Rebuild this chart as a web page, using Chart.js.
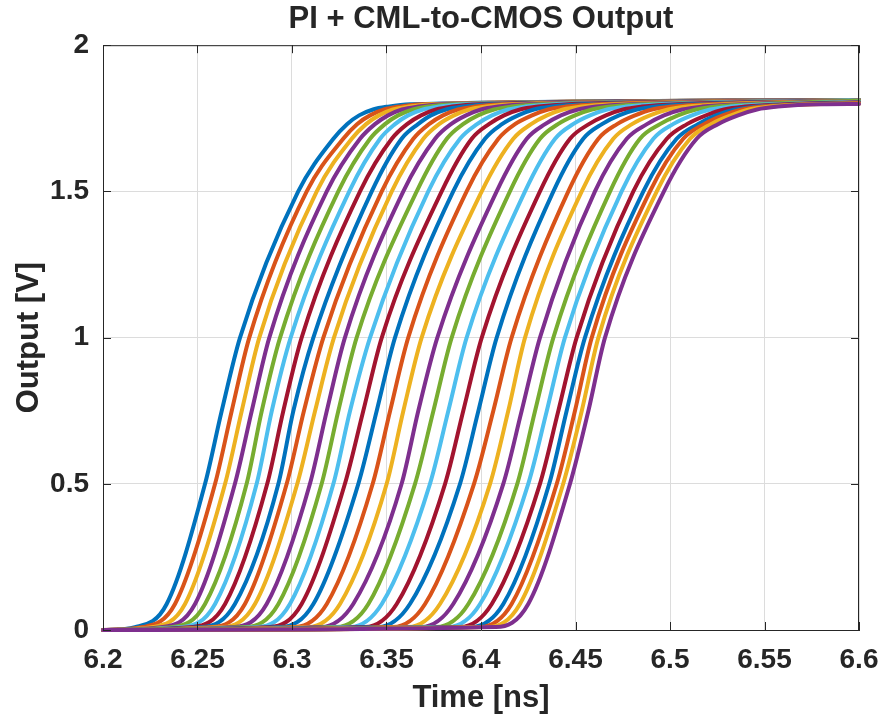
<!DOCTYPE html>
<html>
<head>
<meta charset="utf-8">
<script src="https://cdn.jsdelivr.net/npm/chart.js@4.4.1/dist/chart.umd.min.js"></script>
<style>
  html, body { margin: 0; padding: 0; background: #fff; }
</style>
</head>
<body>
<canvas id="outChart" width="882" height="722"></canvas>
<script>
// voltage levels [V] at which the crossing time of every curve was read
const levels = [0.01, 0.089, 0.5, 0.749, 1.0, 1.5, 1.68, 1.73, 1.76, 1.78, 1.79, 1.798];

// crossing times [ns], one value per PI code (32 curves)
const tAt0p01 = [6.2169, 6.2212, 6.2265, 6.2317, 6.2370, 6.2423, 6.2476, 6.2529, 6.2582, 6.2635, 6.2698, 6.2757,
  6.2820, 6.2884, 6.2942, 6.3016, 6.3085, 6.3153, 6.3233, 6.3307, 6.3386, 6.3455, 6.3534, 6.3614,
  6.3683, 6.3762, 6.3825, 6.3889, 6.3947, 6.3995, 6.4037, 6.4079];
const tAt0p089 = [6.2337, 6.2381, 6.2434, 6.2487, 6.2540, 6.2593, 6.2646, 6.2698, 6.2751, 6.2804, 6.2866, 6.2928,
  6.2989, 6.3051, 6.3113, 6.3184, 6.3254, 6.3324, 6.3404, 6.3475, 6.3554, 6.3624, 6.3704, 6.3783,
  6.3853, 6.3933, 6.3995, 6.4057, 6.4118, 6.4162, 6.4206, 6.4250];
const tAt0p5 = [6.2540, 6.2593, 6.2646, 6.2698, 6.2760, 6.2813, 6.2869, 6.2928, 6.2972, 6.3028, 6.3095, 6.3157,
  6.3219, 6.3280, 6.3351, 6.3427, 6.3501, 6.3580, 6.3651, 6.3730, 6.3810, 6.3889, 6.3963, 6.4048,
  6.4118, 6.4192, 6.4250, 6.4312, 6.4361, 6.4401, 6.4435, 6.4471];
const tAt0p75 = [6.2628, 6.2681, 6.2734, 6.2787, 6.2840, 6.2893, 6.2954, 6.3007, 6.3063, 6.3122, 6.3184, 6.3245,
  6.3307, 6.3377, 6.3448, 6.3519, 6.3589, 6.3668, 6.3748, 6.3827, 6.3906, 6.3986, 6.4065, 6.4144,
  6.4215, 6.4286, 6.4348, 6.4409, 6.4453, 6.4497, 6.4533, 6.4568];
const tAt1p0 = [6.2725, 6.2774, 6.2827, 6.2880, 6.2937, 6.2993, 6.3051, 6.3113, 6.3166, 6.3222, 6.3280, 6.3342,
  6.3413, 6.3475, 6.3545, 6.3615, 6.3686, 6.3769, 6.3845, 6.3924, 6.4004, 6.4083, 6.4162, 6.4233,
  6.4312, 6.4383, 6.4444, 6.4506, 6.4550, 6.4586, 6.4621, 6.4656];
const tAt1p5 = [6.3033, 6.3078, 6.3131, 6.3184, 6.3245, 6.3303, 6.3360, 6.3422, 6.3475, 6.3528, 6.3589, 6.3660,
  6.3721, 6.3792, 6.3853, 6.3924, 6.4004, 6.4083, 6.4153, 6.4233, 6.4312, 6.4383, 6.4462, 6.4533,
  6.4603, 6.4683, 6.4744, 6.4806, 6.4859, 6.4894, 6.4930, 6.4968];
const tAt1p68 = [6.3219, 6.3271, 6.3316, 6.3360, 6.3413, 6.3466, 6.3528, 6.3580, 6.3642, 6.3695, 6.3757, 6.3819,
  6.3889, 6.3951, 6.4021, 6.4092, 6.4171, 6.4242, 6.4312, 6.4392, 6.4471, 6.4541, 6.4621, 6.4700,
  6.4771, 6.4841, 6.4912, 6.4983, 6.5035, 6.5070, 6.5106, 6.5141];
const tAt1p73 = [6.3291, 6.3344, 6.3392, 6.3439, 6.3492, 6.3545, 6.3609, 6.3667, 6.3725, 6.3778, 6.3841, 6.3905,
  6.3979, 6.4042, 6.4111, 6.4180, 6.4265, 6.4339, 6.4407, 6.4487, 6.4571, 6.4640, 6.4720, 6.4799,
  6.4878, 6.4947, 6.5016, 6.5090, 6.5148, 6.5180, 6.5217, 6.5254];
const tAt1p76 = [6.3355, 6.3413, 6.3460, 6.3508, 6.3561, 6.3614, 6.3683, 6.3735, 6.3799, 6.3857, 6.3921, 6.3984,
  6.4058, 6.4122, 6.4196, 6.4270, 6.4349, 6.4423, 6.4497, 6.4577, 6.4661, 6.4730, 6.4815, 6.4894,
  6.4968, 6.5042, 6.5116, 6.5191, 6.5243, 6.5280, 6.5323, 6.5360];
const tAt1p78 = [6.3429, 6.3487, 6.3534, 6.3582, 6.3640, 6.3693, 6.3762, 6.3815, 6.3878, 6.3937, 6.4000, 6.4069,
  6.4143, 6.4206, 6.4280, 6.4355, 6.4434, 6.4513, 6.4587, 6.4667, 6.4751, 6.4825, 6.4905, 6.4989,
  6.5064, 6.5138, 6.5212, 6.5286, 6.5344, 6.5381, 6.5418, 6.5460];
const tAt1p79 = [6.3508, 6.3566, 6.3619, 6.3667, 6.3720, 6.3778, 6.3847, 6.3905, 6.3968, 6.4027, 6.4090, 6.4159,
  6.4233, 6.4302, 6.4376, 6.4450, 6.4529, 6.4609, 6.4683, 6.4767, 6.4852, 6.4926, 6.5011, 6.5090,
  6.5169, 6.5243, 6.5318, 6.5397, 6.5455, 6.5487, 6.5529, 6.5571];
const tAt1p798 = [6.3624, 6.3688, 6.3741, 6.3794, 6.3852, 6.3915, 6.3984, 6.4048, 6.4111, 6.4175, 6.4243, 6.4318,
  6.4392, 6.4460, 6.4540, 6.4619, 6.4704, 6.4788, 6.4862, 6.4952, 6.5037, 6.5116, 6.5201, 6.5291,
  6.5370, 6.5450, 6.5524, 6.5609, 6.5667, 6.5709, 6.5751, 6.5799];

// settled output level at 6.6 ns [V]
const endValues = [1.812, 1.812, 1.812, 1.812, 1.812, 1.812, 1.812, 1.812, 1.812, 1.812, 1.812, 1.812,
  1.812, 1.812, 1.812, 1.812, 1.812, 1.812, 1.812, 1.812, 1.810, 1.810, 1.810, 1.810,
  1.810, 1.810, 1.807, 1.805, 1.803, 1.802, 1.800, 1.799];

const xTicks = [6.2, 6.25, 6.3, 6.35, 6.4, 6.45, 6.5, 6.55, 6.6];
const xTickLabels = ['6.2', '6.25', '6.3', '6.35', '6.4', '6.45', '6.5', '6.55', '6.6'];
const yTicks = [0, 0.5, 1, 1.5, 2];
const yTickLabels = ['0', '0.5', '1', '1.5', '2'];

// MATLAB default line colour order
const colors = ['#0072BD', '#D95319', '#EDB120', '#7E2F8E', '#77AC30', '#4DBEEE', '#A2142F'];

const crossings = [tAt0p01, tAt0p089, tAt0p5, tAt0p75, tAt1p0, tAt1p5, tAt1p68, tAt1p73, tAt1p76, tAt1p78, tAt1p79, tAt1p798];

const datasets = [];
for (let i = 0; i < tAt0p01.length; i++) {
  const pts = [{ x: xTicks[0], y: 0 }];
  levels.forEach((v, k) => pts.push({ x: crossings[k][i], y: v }));
  pts.push({ x: xTicks[xTicks.length - 1], y: endValues[i] });
  datasets.push({
    data: pts,
    borderColor: colors[i % colors.length],
    borderWidth: 4,
    pointRadius: 0,
    fill: false,
    cubicInterpolationMode: 'monotone',
    borderCapStyle: 'round',
    borderJoinStyle: 'round',
    clip: 4,
    order: tAt0p01.length - i   // later curves drawn on top, like MATLAB
  });
}

const textColor = '#262626';
const fontFamily = '"Liberation Sans", Arial, Helvetica, sans-serif';

// box and inward tick marks, MATLAB style
const frame = {
  id: 'frame',
  afterDraw(chart) {
    const { ctx, chartArea: a, scales } = chart;
    ctx.save();
    ctx.strokeStyle = textColor;
    ctx.lineWidth = 1;
    ctx.beginPath();
    ctx.moveTo(a.left, a.top + 0.5);
    ctx.lineTo(a.right - 0.5, a.top + 0.5);
    ctx.lineTo(a.right - 0.5, a.bottom);
    ctx.stroke();
    ctx.beginPath();
    xTicks.forEach(v => {
      const px = Math.round(scales.x.getPixelForValue(v)) + 0.5;
      ctx.moveTo(px, a.bottom); ctx.lineTo(px, a.bottom - 8);
      ctx.moveTo(px, a.top); ctx.lineTo(px, a.top + 8);
    });
    yTicks.forEach(v => {
      const py = Math.round(scales.y.getPixelForValue(v)) + 0.5;
      ctx.moveTo(a.left, py); ctx.lineTo(a.left + 8, py);
      ctx.moveTo(a.right, py); ctx.lineTo(a.right - 8, py);
    });
    ctx.stroke();
    ctx.restore();
  }
};

const config = {
  type: 'line',
  data: { datasets: datasets },
  options: {
    responsive: false,
    animation: false,
    devicePixelRatio: 1,
    layout: { padding: { left: 0, right: 23, top: 0, bottom: 0 } },
    plugins: {
      legend: { display: false },
      tooltip: { enabled: false },
      title: {
        display: true,
        text: 'PI + CML-to-CMOS Output',
        fullSize: false,
        color: textColor,
        font: { family: fontFamily, size: 31, weight: 'bold' },
        padding: { top: 1, bottom: 7 }
      }
    },
    scales: {
      x: {
        type: 'linear',
        min: 6.2,
        max: 6.6,
        afterBuildTicks: s => { s.ticks = xTicks.map(v => ({ value: v })); },
        afterFit: s => { s.height = 92; s.paddingLeft = 0; s.paddingRight = 0; },
        ticks: {
          autoSkip: false,
          maxRotation: 0,
          padding: 13,
          color: textColor,
          font: { family: fontFamily, size: 28, weight: 'bold' },
          callback: (v, i) => xTickLabels[i]
        },
        grid: { color: '#dcdcdc', lineWidth: 1, drawTicks: false },
        border: { color: textColor, width: 1 },
        title: {
          display: true,
          text: 'Time [ns]',
          color: textColor,
          font: { family: fontFamily, size: 31, weight: 'bold' },
          padding: { top: 0, bottom: 5 }
        }
      },
      y: {
        type: 'linear',
        min: 0,
        max: 2,
        afterBuildTicks: s => { s.ticks = yTicks.map(v => ({ value: v })); },
        afterFit: s => { s.width = 103; s.paddingTop = 0; s.paddingBottom = 0; },
        ticks: {
          padding: 14,
          color: textColor,
          font: { family: fontFamily, size: 28, weight: 'bold' },
          callback: (v, i) => yTickLabels[i]
        },
        grid: { color: '#dcdcdc', lineWidth: 1, drawTicks: false },
        border: { color: textColor, width: 1 },
        title: {
          display: true,
          text: 'Output [V]',
          color: textColor,
          font: { family: fontFamily, size: 31, weight: 'bold' },
          padding: { top: 11, bottom: 0 }
        }
      }
    }
  },
  plugins: [frame]
};

const ctx = document.getElementById('outChart').getContext('2d');
new Chart(ctx, config);
</script>
</body>
</html>
